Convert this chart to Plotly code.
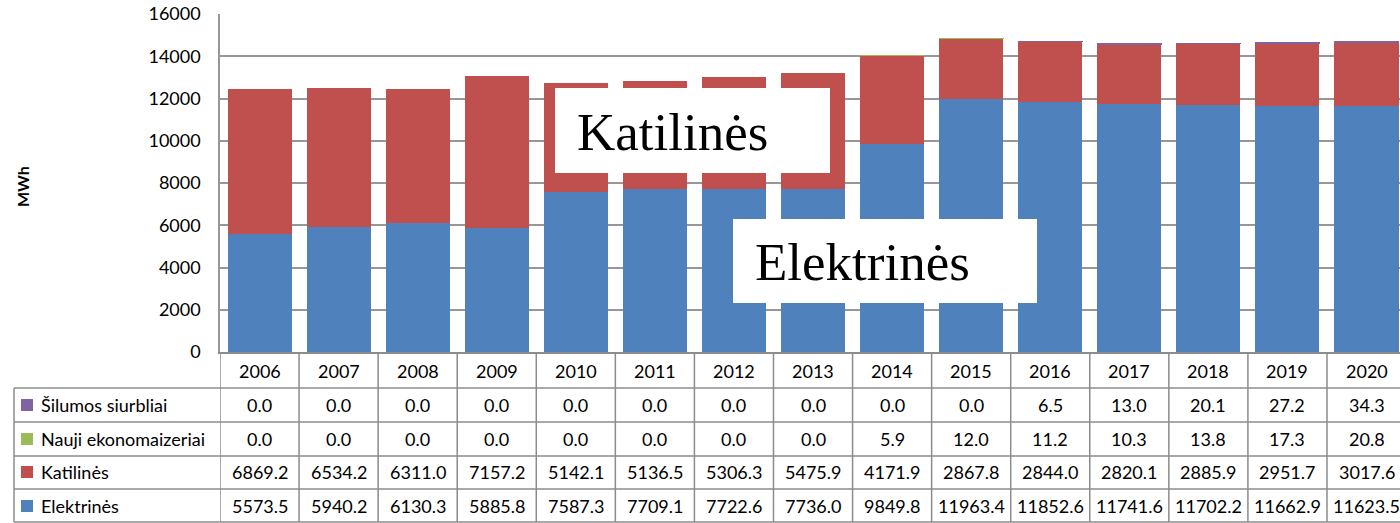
import plotly.graph_objects as go

# Data (MWh)
years = [2006, 2007, 2008, 2009, 2010, 2011, 2012, 2013,
         2014, 2015, 2016, 2017, 2018, 2019, 2020]
silumos_siurbliai = [0.0, 0.0, 0.0, 0.0, 0.0, 0.0, 0.0, 0.0, 0.0, 0.0,
                     6.5, 13.0, 20.1, 27.2, 34.3]
nauji_ekonomaizeriai = [0.0, 0.0, 0.0, 0.0, 0.0, 0.0, 0.0, 0.0, 5.9, 12.0,
                        11.2, 10.3, 13.8, 17.3, 20.8]
katilines = [6869.2, 6534.2, 6311.0, 7157.2, 5142.1, 5136.5, 5306.3, 5475.9,
             4171.9, 2867.8, 2844.0, 2820.1, 2885.9, 2951.7, 3017.6]
elektrines = [5573.5, 5940.2, 6130.3, 5885.8, 7587.3, 7709.1, 7722.6, 7736.0,
              9849.8, 11963.4, 11852.6, 11741.6, 11702.2, 11662.9, 11623.5]

# (name, values, colour, outline so that very thin segments stay visible)
series = [
    ("Elektrinės", elektrines, "#4F81BD", False),
    ("Katilinės", katilines, "#C0504D", False),
    ("Nauji ekonomaizeriai", nauji_ekonomaizeriai, "#9BBB59", True),
    ("Šilumos siurbliai", silumos_siurbliai, "#8064A2", True),
]

W, H = 1400, 523
TOP, BOTTOM, LEFT = 14, 352, 220  # plot area in pixels
COL = 79.07                       # pixel width of one year column
FONT = "Lato"
GRID = "#979797"
LINE = "#8C8C8C"


def py(p):
    """pixel row -> paper y"""
    return (BOTTOM - p) / (BOTTOM - TOP)


def px(p):
    """pixel column -> paper x"""
    return (p - LEFT) / (W - LEFT)


fig = go.Figure()
for name, vals, color, outline in series:
    lw = [1.2 if (outline and v > 0) else 0 for v in vals]
    fig.add_trace(go.Bar(x=years, y=vals, name=name, marker_color=color,
                         marker_line=dict(color=color, width=lw),
                         width=0.81))

shapes = []
annotations = []

# table grid: horizontal lines
for r in [388, 422, 456, 489, 522]:
    shapes.append(dict(type="line", xref="paper", yref="paper",
                       x0=px(14), x1=1, y0=py(r), y1=py(r),
                       line=dict(color=LINE, width=1.5)))
# table grid: vertical lines at column boundaries
for yr in years:
    shapes.append(dict(type="line", xref="x", yref="paper",
                       x0=yr - 0.5, x1=yr - 0.5, y0=0, y1=py(522),
                       line=dict(color=LINE, width=1.5)))
# left border of the label column
shapes.append(dict(type="line", xref="paper", yref="paper",
                   x0=px(14), x1=px(14), y0=py(388), y1=py(522),
                   line=dict(color=LINE, width=1.5)))

cell_font = dict(family=FONT, size=18, color="#000")

# header row with years
for yr in years:
    annotations.append(dict(x=yr, y=py(371), xref="x", yref="paper",
                            text=str(yr), showarrow=False,
                            xanchor="center", yanchor="middle",
                            font=cell_font))

# table body rows (top to bottom)
rows = [
    ("Šilumos siurbliai", silumos_siurbliai, "#8064A2", 405),
    ("Nauji ekonomaizeriai", nauji_ekonomaizeriai, "#9BBB59", 439),
    ("Katilinės", katilines, "#C0504D", 472),
    ("Elektrinės", elektrines, "#4F81BD", 506),
]
for label, vals, color, yc in rows:
    shapes.append(dict(type="rect", xref="paper", yref="paper",
                       x0=px(21), x1=px(33), y0=py(yc - 6), y1=py(yc + 6),
                       fillcolor=color, line=dict(width=0)))
    annotations.append(dict(x=px(39), y=py(yc), xref="paper", yref="paper",
                            text=label, showarrow=False,
                            xanchor="left", yanchor="middle",
                            font=cell_font))
    for yr, v in zip(years, vals):
        annotations.append(dict(x=yr, y=py(yc), xref="x", yref="paper",
                                text=f"{v:.1f}", showarrow=False,
                                xanchor="center", yanchor="middle",
                                font=cell_font))

# white label boxes over the bars
boxes = [
    ("Katilinės", 555, 830, 88, 173, 575, 132),
    ("Elektrinės", 733, 1037, 219, 303, 753, 262),
]
for text, x0, x1, y0, y1, tx, ty in boxes:
    shapes.append(dict(type="rect", xref="paper", yref="paper", layer="above",
                       x0=px(x0), x1=px(x1), y0=py(y0), y1=py(y1),
                       fillcolor="white", line=dict(width=0)))
    annotations.append(dict(x=px(tx), y=py(ty), xref="paper", yref="paper",
                            text=text, showarrow=False,
                            xanchor="left", yanchor="middle",
                            font=dict(family="Liberation Serif", size=53,
                                      color="#000")))

# axis title
annotations.append(dict(x=px(22), y=py(187), xref="paper", yref="paper",
                        text="<b>MWh</b>", showarrow=False, textangle=-90,
                        xanchor="center", yanchor="middle",
                        font=dict(family=FONT, size=16, color="#000")))

fig.update_layout(
    width=W, height=H,
    barmode="stack",
    showlegend=False,
    plot_bgcolor="white",
    paper_bgcolor="white",
    margin=dict(l=LEFT, r=0, t=TOP, b=H - BOTTOM, pad=0),
    xaxis=dict(range=[years[0] - 0.5, years[0] - 0.5 + (W - LEFT) / COL],
               showticklabels=False, showgrid=False, zeroline=False,
               showline=True, linecolor=LINE, linewidth=1.5, ticks=""),
    yaxis=dict(range=[0, 16000], dtick=2000, tickformat="d",
               showgrid=True, gridcolor=GRID, gridwidth=1.5, zeroline=False,
               showline=True, linecolor=GRID, linewidth=1.5, ticks="",
               ticklabelstandoff=14,
               tickfont=dict(family=FONT, size=18, color="#000")),
    shapes=shapes,
    annotations=annotations,
)

fig.write_html("out.html")
